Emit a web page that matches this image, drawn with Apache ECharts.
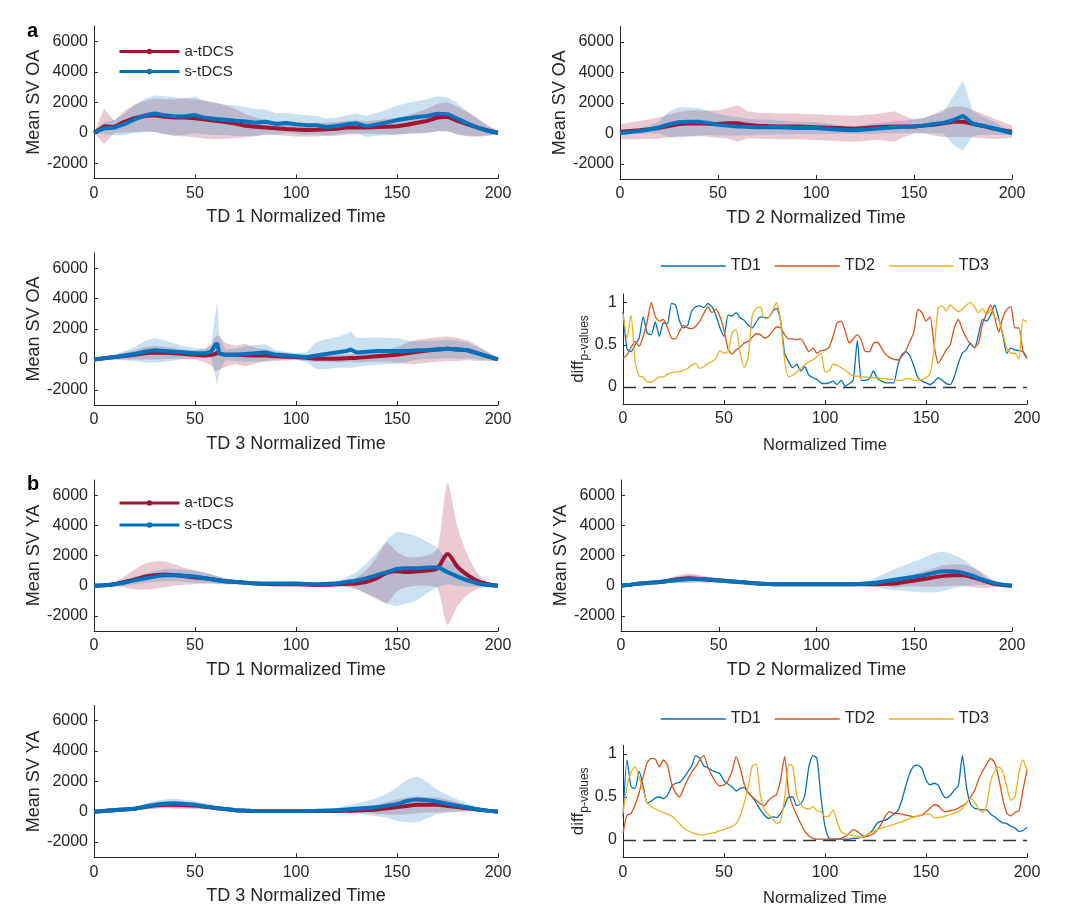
<!DOCTYPE html>
<html>
<head>
<meta charset="utf-8">
<script src="https://cdn.jsdelivr.net/npm/echarts@6/dist/echarts.min.js"></script>
<style>html,body{margin:0;padding:0;background:#fff}#c{width:1080px;height:923px}</style>
</head>
<body>
<div id="c"></div>
<script>
// ---------- sample positions ----------
const time5 = [0,5,10,15,20,25,30,35,40,45,50,55,60,65,70,75,80,85,90,95,100,105,110,115,120,125,130,135,140,145,150,155,160,165,170,175,180,185,190,195,200];
const time3 = [0,5,10,15,20,25,30,35,40,45,50,55,58,60,61,62,65,70,75,80,85,90,95,100,105,110,115,120,125,127,130,135,140,145,150,155,160,165,170,175,180,185,190,195,200];
const timeP = [0,2,4,6,8,10,12,14,16,18,20,22,24,26,28,30,32,34,36,38,40,42,44,46,48,50,52,54,56,58,60,62,64,66,68,70,72,74,76,78,80,82,84,86,88,90,92,94,96,98,100,102,104,106,108,110,112,114,116,118,120,122,124,126,128,130,132,134,136,138,140,142,144,146,148,150,152,154,156,158,160,162,164,166,168,170,172,174,176,178,180,182,184,186,188,190,192,194,196,198,200];

// ---------- a: OA, TD1 ----------
const oa1A_mean = [0,420,380,720,950,1100,1150,1050,1000,1000,950,870,780,700,600,460,400,350,300,250,210,180,200,230,260,340,350,350,370,400,430,530,650,780,1000,1050,780,550,330,150,0];
const oa1A_sd   = [0,1150,400,700,900,1000,1100,1150,1200,1250,1250,1250,1200,1100,950,750,600,500,450,450,450,450,450,450,450,450,450,400,450,500,550,600,700,800,900,950,900,800,600,350,100];
const oa1S_mean = [0,300,330,560,880,1130,1260,1150,1070,1080,1160,980,900,850,780,740,650,720,580,640,560,500,500,380,440,550,620,420,550,680,830,930,1030,1100,1250,1220,920,600,330,120,0];
const oa1S_sd   = [0,400,500,700,900,1100,1200,1250,1250,1200,1200,1100,1050,1000,1000,950,900,800,700,650,650,650,600,550,550,600,650,700,750,850,950,1000,1050,1100,1150,1100,1000,800,550,300,100];
// ---------- a: OA, TD2 ----------
const oa2A_mean = [100,150,200,270,350,480,600,640,650,620,600,650,650,550,500,470,450,450,450,420,400,370,350,320,300,350,400,430,450,450,450,500,550,650,750,750,620,480,320,200,100];
const oa2A_sd   = [500,550,600,650,700,750,800,850,850,850,900,1000,1200,900,850,850,850,850,850,850,850,850,850,850,850,850,850,900,1000,700,450,500,700,900,1000,1000,900,800,700,550,400];
const oa2S_mean = [0,80,150,250,380,580,720,760,750,680,560,500,450,420,400,400,390,370,350,340,340,300,250,220,200,250,300,350,400,420,450,500,600,680,850,1150,620,500,350,180,0];
const oa2S_sd   = [100,150,200,250,400,850,1000,950,900,800,700,650,600,550,500,500,450,450,400,400,400,350,300,250,250,300,350,350,400,400,450,500,600,700,1600,2300,800,600,450,300,100];
// ---------- a: OA, TD3 ----------
const oa3A_mean = [0,70,150,220,300,400,450,430,400,350,300,250,300,350,450,400,300,300,280,250,250,200,180,150,100,50,50,50,80,90,100,150,200,250,300,400,500,580,650,700,650,600,400,200,0];
const oa3A_sd   = [50,100,150,220,300,400,450,400,350,300,300,450,700,1100,1150,1100,800,600,750,500,400,300,250,200,200,200,200,250,250,250,300,300,350,400,500,700,800,800,800,800,750,650,500,300,100];
const oa3S_mean = [0,70,150,250,350,500,600,550,500,450,400,400,500,950,1050,400,300,300,350,400,450,300,250,200,150,250,350,450,550,650,450,500,550,550,550,550,600,620,650,700,650,600,400,200,0];
const oa3S_sd   = [50,100,150,300,450,700,800,700,550,400,350,300,400,2000,2750,1200,350,400,500,550,550,300,250,200,300,900,1000,1000,1100,1200,950,900,900,850,850,700,600,600,600,600,600,500,400,250,100];
// ---------- a: p-values ----------
const pA_TD1 = [0.89,0.45,0.42,0.50,0.58,0.83,0.64,0.62,0.77,0.60,0.76,0.75,0.99,0.97,0.78,0.70,0.73,0.90,0.95,0.96,0.94,0.99,0.95,0.85,0.70,0.60,0.85,0.84,0.88,0.82,0.79,0.73,0.70,0.77,0.83,0.82,0.82,0.89,0.93,0.79,0.40,0.30,0.23,0.27,0.19,0.24,0.14,0.11,0.09,0.05,0.04,0.05,0.07,0.03,0.08,0.01,0.04,0.08,0.55,0.08,0.08,0.10,0.19,0.10,0.07,0.05,0.05,0.05,0.25,0.38,0.42,0.37,0.25,0.11,0.07,0.05,0.03,0.06,0.11,0.08,0.04,0.03,0.12,0.28,0.40,0.44,0.52,0.46,0.62,0.80,0.78,0.85,0.97,0.81,0.62,0.40,0.46,0.44,0.43,0.42,0.34];
const pA_TD2 = [0.34,0.38,0.47,0.54,0.48,0.60,0.78,1.00,0.83,0.78,0.80,0.70,0.58,0.57,0.66,0.73,0.70,0.69,0.72,0.78,0.87,0.95,0.88,0.92,0.83,0.67,0.45,0.39,0.44,0.47,0.52,0.54,0.59,0.63,0.62,0.58,0.60,0.66,0.71,0.70,0.62,0.57,0.57,0.56,0.57,0.50,0.42,0.46,0.40,0.43,0.44,0.47,0.60,0.76,0.78,0.66,0.52,0.57,0.62,0.55,0.42,0.42,0.52,0.53,0.46,0.39,0.35,0.33,0.32,0.36,0.43,0.54,0.65,0.92,0.88,0.78,0.83,0.50,0.28,0.35,0.44,0.50,0.70,0.80,0.68,0.58,0.51,0.47,0.52,0.75,0.87,0.97,0.82,0.65,0.82,0.92,0.95,0.70,0.70,0.42,0.34];
const pA_TD3 = [0.87,0.58,0.85,0.30,0.13,0.12,0.06,0.06,0.09,0.12,0.12,0.15,0.17,0.18,0.18,0.20,0.22,0.26,0.28,0.22,0.24,0.28,0.30,0.34,0.43,0.40,0.42,0.64,0.68,0.40,0.23,0.35,0.85,0.93,0.95,0.81,0.82,0.90,1.00,0.78,0.32,0.12,0.14,0.18,0.22,0.26,0.30,0.32,0.36,0.40,0.18,0.19,0.27,0.26,0.23,0.20,0.16,0.13,0.13,0.12,0.12,0.11,0.11,0.11,0.10,0.10,0.09,0.09,0.08,0.08,0.10,0.10,0.08,0.08,0.09,0.11,0.16,0.45,0.93,0.96,0.90,0.97,0.93,0.89,0.92,0.97,1.00,0.95,0.88,0.93,0.85,0.92,0.82,0.80,0.64,0.46,0.40,0.40,0.33,0.80,0.77];

// ---------- b: YA, TD1 ----------
const ya1A_mean = [0,30,100,250,400,600,700,750,700,620,550,500,400,300,250,200,150,120,100,100,100,80,50,60,100,120,150,250,500,850,950,900,950,1000,1150,2100,1250,700,300,100,0];
const ya1A_sd   = [0,50,150,350,650,850,900,850,700,550,450,350,250,200,150,100,100,100,100,150,150,150,150,150,150,200,400,800,1400,2000,1300,1000,950,1000,1300,4700,2600,1300,500,150,50];
const ya1S_mean = [0,30,100,200,350,480,600,700,700,650,600,500,400,300,250,200,150,150,150,150,150,120,100,120,150,250,350,500,700,900,1100,1150,1150,1200,1200,900,600,350,150,50,0];
const ya1S_sd   = [0,50,100,200,250,300,350,400,400,400,400,350,300,200,150,100,100,100,100,100,100,100,100,150,200,300,550,1000,1500,2100,2450,2300,2100,1700,1300,800,600,400,200,100,50];
// ---------- b: YA, TD2 ----------
const ya2A_mean = [0,70,150,200,250,350,450,500,450,400,350,300,250,200,150,120,100,100,100,100,100,100,100,100,100,100,100,120,150,250,350,450,550,650,700,700,550,350,150,50,0];
const ya2A_sd   = [0,30,60,80,100,180,250,300,250,200,150,120,100,80,80,80,80,80,80,80,80,80,80,80,80,80,80,150,250,300,400,500,600,700,700,700,650,500,250,100,50];
const ya2S_mean = [0,70,150,200,250,330,400,450,450,400,350,300,250,200,150,120,100,100,100,100,100,100,100,100,100,150,200,300,400,500,600,700,850,950,950,850,650,400,200,70,0];
const ya2S_sd   = [0,30,60,80,100,150,200,250,200,170,150,120,100,80,80,80,80,80,80,80,80,80,80,80,80,150,300,500,700,850,1000,1150,1300,1300,1100,900,600,350,150,80,50];
// ---------- b: YA, TD3 ----------
const ya3A_mean = [0,50,100,150,200,300,400,450,450,430,400,330,250,170,100,70,50,50,50,50,50,50,50,50,50,60,80,110,150,220,300,380,450,450,450,380,300,220,150,70,0];
const ya3A_sd   = [0,20,40,60,100,150,200,230,250,230,200,150,100,60,50,50,50,50,50,50,50,50,50,50,50,80,120,200,300,400,500,550,550,500,500,400,300,200,120,60,30];
const ya3S_mean = [0,50,100,150,200,330,450,530,550,500,450,350,250,170,100,70,50,50,50,50,50,50,60,80,100,150,200,250,300,400,500,700,800,750,650,520,400,280,150,70,0];
const ya3S_sd   = [0,20,40,60,100,180,250,280,300,280,250,200,150,80,50,50,50,50,50,50,50,50,80,100,150,250,350,450,600,800,1100,1400,1500,1200,800,600,400,250,150,80,30];
// ---------- b: p-values ----------
const pB_TD1 = [0.27,0.93,0.62,0.60,0.80,0.62,0.43,0.45,0.49,0.50,0.48,0.52,0.62,0.66,0.67,0.72,0.79,0.86,0.98,0.95,0.86,0.84,0.81,0.79,0.77,0.69,0.65,0.62,0.57,0.60,0.61,0.55,0.50,0.43,0.35,0.29,0.25,0.27,0.26,0.31,0.40,0.50,0.50,0.40,0.42,0.52,0.85,0.98,0.95,0.50,0.16,0.02,0.01,0.01,0.01,0.01,0.01,0.02,0.02,0.03,0.04,0.08,0.13,0.20,0.22,0.23,0.26,0.30,0.34,0.46,0.63,0.78,0.86,0.87,0.83,0.70,0.64,0.66,0.64,0.54,0.49,0.52,0.58,0.63,0.98,0.62,0.42,0.37,0.36,0.35,0.35,0.30,0.27,0.23,0.20,0.19,0.16,0.14,0.10,0.11,0.15];
const pB_TD2 = [0.08,0.29,0.31,0.41,0.55,0.74,0.90,0.95,0.94,0.85,0.93,0.87,0.66,0.55,0.50,0.60,0.70,0.79,0.85,0.93,0.98,0.85,0.75,0.67,0.63,0.64,0.69,0.80,0.97,0.84,0.65,0.55,0.50,0.46,0.42,0.40,0.46,0.50,0.53,0.70,0.97,0.55,0.40,0.29,0.19,0.10,0.05,0.02,0.01,0.01,0.01,0.01,0.01,0.01,0.02,0.04,0.08,0.12,0.10,0.06,0.04,0.05,0.07,0.12,0.19,0.28,0.33,0.31,0.31,0.30,0.29,0.28,0.27,0.28,0.29,0.33,0.37,0.41,0.40,0.35,0.33,0.34,0.35,0.37,0.40,0.43,0.50,0.57,0.70,0.80,0.88,0.95,0.90,0.72,0.48,0.31,0.28,0.32,0.34,0.58,0.81];
const pB_TD3 = [0.31,0.62,0.79,0.85,0.73,0.58,0.43,0.39,0.36,0.34,0.32,0.30,0.28,0.24,0.19,0.14,0.11,0.09,0.07,0.06,0.06,0.07,0.08,0.09,0.11,0.12,0.14,0.16,0.19,0.28,0.43,0.62,0.86,0.88,0.52,0.35,0.30,0.25,0.19,0.22,0.48,0.88,0.86,0.52,0.41,0.37,0.36,0.39,0.34,0.33,0.27,0.28,0.35,0.21,0.10,0.07,0.06,0.05,0.04,0.03,0.05,0.08,0.10,0.12,0.14,0.15,0.17,0.18,0.20,0.21,0.23,0.25,0.27,0.28,0.29,0.30,0.30,0.26,0.26,0.27,0.28,0.30,0.31,0.33,0.37,0.43,0.48,0.45,0.36,0.32,0.40,0.68,0.80,0.85,0.80,0.62,0.46,0.50,0.78,0.93,0.81];

// ---------- tick labels / names ----------
const svTicks = [-2000, 0, 2000, 4000, 6000];
const pTicks = [0, 0.5, 1];
const groupNames = ['a-tDCS', 's-tDCS'];
const tdNames = ['TD1', 'TD2', 'TD3'];

// ---------- styles ----------
const FONT = "'Liberation Sans', Arial, Helvetica, sans-serif";
const TXT = '#262626';
const RED = '#A2142F', BLUE = '#0072BD';
const RED_BAND = 'rgba(162,20,47,0.22)', BLUE_BAND = 'rgba(0,114,189,0.21)';
const P_COLORS = ['#0072BD', '#D95319', '#EDB120'];

const grids = [
  {left: 94,  top: 26,    width: 404, height: 152.5},
  {left: 620, top: 26.5,  width: 392, height: 152.5},
  {left: 94,  top: 253,   width: 404, height: 152},
  {left: 623, top: 294,   width: 404, height: 110},
  {left: 94,  top: 480,   width: 404, height: 151},
  {left: 621, top: 480,   width: 391, height: 151},
  {left: 94,  top: 705.5, width: 404, height: 151.7},
  {left: 623, top: 745.4, width: 404, height: 111.8}
];

const xAxes = [], yAxes = [], series = [];

function xAxis(i, name, gap, fs) {
  return {
    type: 'value', gridIndex: i, min: 0, max: 200, interval: 50,
    name: name, nameLocation: 'middle', nameGap: gap,
    nameTextStyle: {fontSize: fs, color: TXT, fontFamily: FONT},
    axisLine: {onZero: false, lineStyle: {color: TXT, width: 1}},
    axisTick: {inside: true, length: 4, lineStyle: {color: TXT}},
    axisLabel: {fontSize: 16, color: TXT, margin: 7, fontFamily: FONT},
    splitLine: {show: false}
  };
}
function yAxis(i, name, ticks, min, max, gap, nameStyle) {
  return {
    type: 'value', gridIndex: i, min: min, max: max,
    name: name, nameLocation: 'middle', nameGap: gap, nameRotate: 90,
    nameTextStyle: nameStyle,
    axisLine: {show: true, onZero: false, lineStyle: {color: TXT, width: 1}},
    axisTick: {show: true, inside: true, length: 4, customValues: ticks, lineStyle: {color: TXT}},
    axisLabel: {customValues: ticks, fontSize: 16, color: TXT, margin: 6, fontFamily: FONT,
                formatter: function (v) { return String(v); }},
    splitLine: {show: false}
  };
}
const svNameStyle = {fontSize: 18, color: TXT, fontFamily: FONT};
const pNameStyle = {
  color: TXT, fontFamily: FONT,
  rich: {
    a: {fontSize: 17, color: TXT, fontFamily: FONT, verticalAlign: 'top', lineHeight: 18},
    b: {fontSize: 12, color: TXT, fontFamily: FONT, verticalAlign: 'top', lineHeight: 13, padding: [9, 0, 0, 0]}
  }
};

function zip(t, v) { return t.map(function (x, k) { return [x, v[k]]; }); }

// shaded mean ± sd band, drawn as one polygon through the axis scales
function addBand(i, t, mean, sd, bandColor, smooth) {
  const rows = t.map(function (x, k) { return [x, mean[k] - sd[k], mean[k] + sd[k]]; });
  series.push({
    type: 'custom', xAxisIndex: i, yAxisIndex: i, silent: true, z: 1,
    data: rows, encode: {x: 0, y: [1, 2]},
    renderItem: function (params, api) {
      if (params.dataIndex !== 0) return null;
      const upper = rows.map(function (r) { return api.coord([r[0], r[2]]); });
      const lower = rows.map(function (r) { return api.coord([r[0], r[1]]); }).reverse();
      return {
        type: 'polygon',
        shape: {points: upper.concat(lower), smooth: smooth ? 0.25 : 0},
        style: {fill: bandColor}
      };
    }
  });
}
function addMean(i, t, mean, lineColor, name, smooth, z) {
  series.push({
    type: 'line', name: name, xAxisIndex: i, yAxisIndex: i, data: zip(t, mean),
    symbol: 'circle', symbolSize: 5, showSymbol: false,
    lineStyle: {color: lineColor, width: 4}, itemStyle: {color: lineColor},
    z: z, smooth: smooth
  });
}
function svPanel(i, t, aM, aS, sM, sS, xName, yName, smooth) {
  const isLeft = grids[i].left < 300;
  xAxes.push(xAxis(i, xName, 30, 18));
  yAxes.push(yAxis(i, yName, svTicks, -3000, 7000, isLeft ? 50 : 48, svNameStyle));
  addBand(i, t, aM, aS, RED_BAND, smooth);
  addBand(i, t, sM, sS, BLUE_BAND, smooth);
  addMean(i, t, aM, RED, groupNames[0], smooth, 3);
  addMean(i, t, sM, BLUE, groupNames[1], smooth, 4);
}
function pPanel(i, vals) {
  xAxes.push(xAxis(i, 'Normalized Time', 33, 16.5));
  yAxes.push(yAxis(i, '{a|diff}{b|p-values}', pTicks, -0.2, 1.1, 34, pNameStyle));
  vals.forEach(function (v, k) {
    const s = {
      type: 'line', name: tdNames[k], xAxisIndex: i, yAxisIndex: i, data: zip(timeP, v),
      symbol: 'none', lineStyle: {color: P_COLORS[k], width: 1.3}, itemStyle: {color: P_COLORS[k]},
      smooth: 0.2, z: 3 + k
    };
    if (k === 0) {
      s.markLine = {
        silent: true, symbol: ['none', 'none'], label: {show: false}, animation: false,
        lineStyle: {type: [13, 7], color: '#333333', width: 1.3},
        data: [{yAxis: 0}]
      };
    }
    series.push(s);
  });
}

svPanel(0, time5, oa1A_mean, oa1A_sd, oa1S_mean, oa1S_sd, 'TD 1 Normalized Time', 'Mean SV OA', false);
svPanel(1, time5, oa2A_mean, oa2A_sd, oa2S_mean, oa2S_sd, 'TD 2 Normalized Time', 'Mean SV OA', false);
svPanel(2, time3, oa3A_mean, oa3A_sd, oa3S_mean, oa3S_sd, 'TD 3 Normalized Time', 'Mean SV OA', false);
pPanel(3, [pA_TD1, pA_TD2, pA_TD3]);
svPanel(4, time5, ya1A_mean, ya1A_sd, ya1S_mean, ya1S_sd, 'TD 1 Normalized Time', 'Mean SV YA', 0.3);
svPanel(5, time5, ya2A_mean, ya2A_sd, ya2S_mean, ya2S_sd, 'TD 2 Normalized Time', 'Mean SV YA', 0.3);
svPanel(6, time5, ya3A_mean, ya3A_sd, ya3S_mean, ya3S_sd, 'TD 3 Normalized Time', 'Mean SV YA', 0.3);
pPanel(7, [pB_TD1, pB_TD2, pB_TD3]);

const legendText = {fontSize: 15, color: TXT, fontFamily: FONT};
const option = {
  backgroundColor: '#ffffff',
  animation: false,
  title: [
    {text: 'a', left: 27, top: 21, padding: 0, textStyle: {fontSize: 20, fontWeight: 'bold', color: '#000', fontFamily: FONT}},
    {text: 'b', left: 27, top: 474, padding: 0, textStyle: {fontSize: 20, fontWeight: 'bold', color: '#000', fontFamily: FONT}}
  ],
  legend: [
    {data: groupNames, orient: 'vertical', left: 118, top: 44, itemWidth: 60, itemHeight: 7, itemGap: 5,
     textStyle: legendText, lineStyle: {width: 3}, padding: 0},
    {data: groupNames, orient: 'vertical', left: 118, top: 495.5, itemWidth: 60, itemHeight: 7, itemGap: 7,
     textStyle: legendText, lineStyle: {width: 3}, padding: 0},
    {data: tdNames, orient: 'horizontal', left: 660, top: 258, itemWidth: 65, itemHeight: 10, itemGap: 13,
     textStyle: {fontSize: 16, color: TXT, fontFamily: FONT}, lineStyle: {width: 1.5},
     itemStyle: {opacity: 0}, padding: 0},
    {data: tdNames, orient: 'horizontal', left: 660, top: 711, itemWidth: 65, itemHeight: 10, itemGap: 13,
     textStyle: {fontSize: 16, color: TXT, fontFamily: FONT}, lineStyle: {width: 1.5},
     itemStyle: {opacity: 0}, padding: 0}
  ],
  grid: grids,
  xAxis: xAxes,
  yAxis: yAxes,
  series: series
};

const chart = echarts.init(document.getElementById('c'), null, {renderer: 'canvas'});
chart.setOption(option);
</script>
</body>
</html>
